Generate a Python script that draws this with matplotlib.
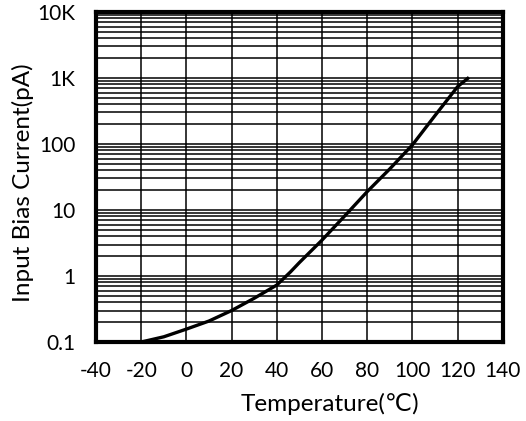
import numpy as np
import matplotlib.pyplot as plt
from matplotlib.ticker import FixedLocator, LogLocator, NullFormatter

plt.rcParams['font.family'] = ['Lato', 'DejaVu Sans']
plt.rcParams['axes.unicode_minus'] = False

# temperature (C) vs input bias current (pA)
temp_c = [-20, -10, 0, 10, 20, 30, 40, 46, 50, 60, 70, 80, 90, 100, 110, 120, 125]
ibias_pa = [0.1, 0.12, 0.157, 0.208, 0.3, 0.46, 0.73, 1.15, 1.6, 3.5, 8.1, 19, 42, 97, 270, 740, 1020]

x_ticks = [-40, -20, 0, 20, 40, 60, 80, 100, 120, 140]
y_ticks = [0.1, 1, 10, 100, 1000, 10000]
y_tick_labels = ['0.1', '1', '10', '100', '1K', '10K']

fig = plt.figure(figsize=(5.26, 4.21), dpi=100)
ax = fig.add_axes([0.1825, 0.1876, 0.7735, 0.784])

ax.plot(temp_c, ibias_pa, color='black', lw=2.4, solid_capstyle='butt', zorder=3)

ax.set_yscale('log')
ax.set_xlim(-40, 140)
ax.set_ylim(0.1, 10000)

ax.xaxis.set_major_locator(FixedLocator(x_ticks))
ax.set_yticks(y_ticks)
ax.set_yticklabels(y_tick_labels)
ax.yaxis.set_minor_locator(LogLocator(base=10, subs=np.arange(2, 10)))
ax.yaxis.set_minor_formatter(NullFormatter())

ax.grid(True, which='major', axis='both', color='black', lw=1.1)
ax.grid(True, which='minor', axis='y', color='black', lw=1.1)

ax.tick_params(which='both', length=0, labelsize=15)
ax.tick_params(axis='y', pad=15)
ax.tick_params(axis='x', pad=14)

for s in ax.spines.values():
    s.set_linewidth(3)
    s.set_zorder(4)

ax.set_xlabel('Temperature(℃)', fontsize=17.5)
ax.set_ylabel('Input Bias Current(pA)', fontsize=17.5)
ax.xaxis.set_label_coords(0.575, -0.155)
ax.yaxis.set_label_coords(-0.153, 0.482)

fig.savefig('out.png', dpi=100)
